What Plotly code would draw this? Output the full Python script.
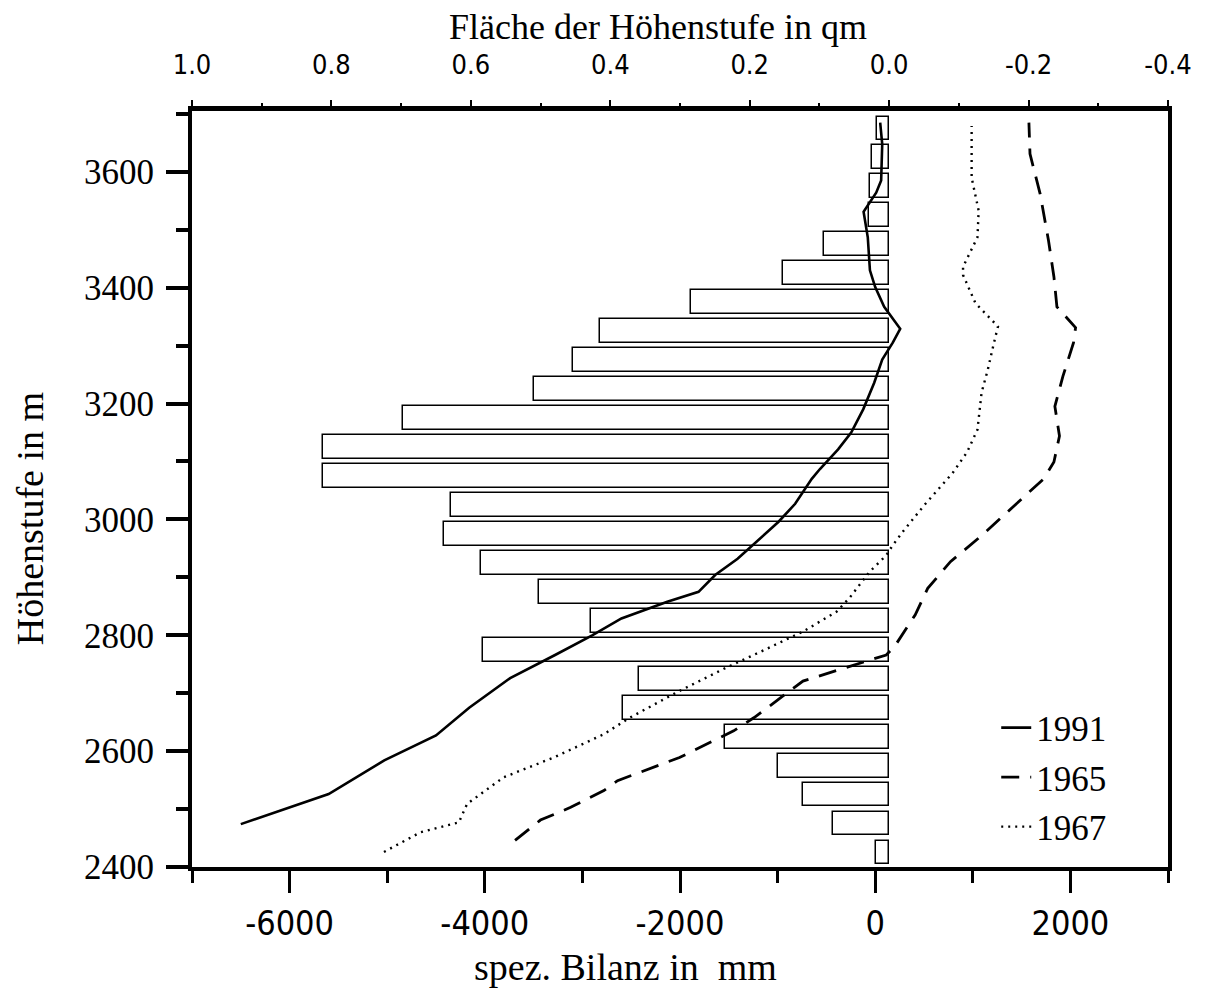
import plotly.graph_objects as go

# ---------------- data ----------------
# area of altitude band (qm) -- bars, centre altitude of 50 m bands
band_alt = [3675, 3625, 3575, 3525, 3475, 3425, 3375, 3325, 3275, 3225, 3175, 3125, 3075,
            3025, 2975, 2925, 2875, 2825, 2775, 2725, 2675, 2625, 2575, 2525, 2475, 2425]
band_area = [0.018, 0.024, 0.027, 0.029, 0.093, 0.152, 0.284, 0.415, 0.454, 0.510, 0.697, 0.812, 0.812,
             0.628, 0.639, 0.585, 0.502, 0.427, 0.583, 0.359, 0.382, 0.236, 0.160, 0.123, 0.080, 0.019]

# specific balance (mm) vs altitude
alt_1991 = [2474, 2503, 2526, 2584, 2627, 2675, 2726, 2766, 2800, 2829, 2858, 2875, 2904, 2932,
            2964, 2996, 3027, 3047, 3070, 3087, 3121, 3150, 3190, 3236, 3276, 3305, 3329, 3367,
            3401, 3430, 3487, 3531, 3564, 3585, 3648, 3685]
bal_1991 = [-6500, -5990, -5600, -5030, -4500, -4160, -3740, -3280, -2900, -2600, -2130, -1810, -1640, -1410,
            -1200, -990, -820, -740, -650, -566, -380, -246, -123, -10, 72, 180, 256, 92,
            0, -54, -76, -119, 10, 61, 72, 51]

alt_1965 = [2446, 2481, 2503, 2532, 2549, 2589, 2635, 2658, 2721, 2749, 2766, 2781, 2835, 2881,
            2927, 2972, 3030, 3070, 3099, 3144, 3195, 3247, 3305, 3331, 3367, 3419, 3481, 3562,
            3631, 3685]
bal_1965 = [-3690, -3430, -3120, -2780, -2640, -2005, -1450, -1240, -740, -224, 113, 200, 409, 538,
            771, 1090, 1471, 1726, 1831, 1888, 1841, 1923, 2032, 2053, 1862, 1831, 1776, 1690,
            1586, 1575]

alt_1967 = [2426, 2460, 2477, 2509, 2555, 2589, 2629, 2640, 2658, 2704, 2743, 2773, 2807, 2841,
            2864, 2910, 2938, 2955, 2979, 3024, 3080, 3116, 3155, 3219, 3258, 3305, 3333, 3373,
            3422, 3436, 3487, 3533, 3590, 3679]
bal_1967 = [-5033, -4658, -4266, -4181, -3806, -3294, -2783, -2682, -2512, -2005, -1539, -1156, -733, -394,
            -266, -55, 113, 178, 284, 500, 793, 941, 1048, 1090, 1153, 1217, 1258, 1028,
            900, 900, 1048, 1060, 988, 988]

# tick labels
y_tickvals = [2400, 2600, 2800, 3000, 3200, 3400, 3600]
y_ticktext = ["2400", "2600", "2800", "3000", "3200", "3400", "3600"]
bottom_tickvals = [-6000, -4000, -2000, 0, 2000]
bottom_ticktext = ["-6000", "-4000", "-2000", "0", "2000"]
top_tickvals = [1.0, 0.8, 0.6, 0.4, 0.2, 0.0, -0.2, -0.4]
top_ticktext = ["1.0", "0.8", "0.6", "0.4", "0.2", "0.0", "-0.2", "-0.4"]

SERIF = "Liberation Serif, Times New Roman, serif"
NARROW = "Liberation Sans Narrow, Arial Narrow, DejaVu Sans Condensed, Liberation Sans, sans-serif"

fig = go.Figure()

# bars on the top (area) axis
fig.add_trace(go.Bar(
    x=band_area, y=band_alt, orientation="h", width=41,
    marker=dict(color="white", line=dict(color="black", width=1.5)),
    xaxis="x", yaxis="y", showlegend=False, hoverinfo="skip"))

# balance lines on the bottom axis (overlay -> drawn above bars)
fig.add_trace(go.Scatter(x=bal_1991, y=alt_1991, mode="lines", name="1991",
                         line=dict(color="black", width=2.6), xaxis="x2", yaxis="y",
                         legendgroup="a"))
fig.add_trace(go.Scatter(x=bal_1965, y=alt_1965, mode="lines", name="1965",
                         line=dict(color="black", width=2.8, dash="18px,11px"), xaxis="x2", yaxis="y",
                         legendgroup="b"))
fig.add_trace(go.Scatter(x=bal_1967, y=alt_1967, mode="lines", name="1967",
                         line=dict(color="black", width=2.4, dash="2px,5px"), xaxis="x2", yaxis="y",
                         legendgroup="c"))

fig.update_layout(
    width=1205, height=1002,
    paper_bgcolor="white", plot_bgcolor="white",
    margin=dict(l=184, r=45, t=103, b=143),
    bargap=0,
    xaxis=dict(  # top axis: area
        side="top", range=[1.0, -0.4], showgrid=False, zeroline=False,
        showline=True, linecolor="black", linewidth=5,
        ticks="outside", ticklen=6, tickwidth=1.5, tickcolor="black",
        tickvals=top_tickvals, ticktext=top_ticktext,
        minor=dict(dtick=0.1, ticks="outside", ticklen=3, tickwidth=1.5, tickcolor="black"),
        tickfont=dict(family=NARROW, size=27, color="black"),
        ticklabelstandoff=15,
    ),
    xaxis2=dict(  # bottom axis: balance
        overlaying="x", side="bottom", range=[-7000, 3000], showgrid=False, zeroline=False,
        showline=True, linecolor="black", linewidth=4,
        ticks="outside", ticklen=22, tickwidth=3, tickcolor="black",
        tickvals=bottom_tickvals, ticktext=bottom_ticktext,
        minor=dict(dtick=1000, tick0=-7000, ticks="outside", ticklen=12, tickwidth=3, tickcolor="black"),
        tickfont=dict(family=NARROW, size=34, color="black"),
        ticklabelstandoff=1,
    ),
    yaxis=dict(
        range=[2400, 3705], showgrid=False, zeroline=False,
        showline=True, linecolor="black", linewidth=4, mirror=True,
        ticks="outside", ticklen=22, tickwidth=3.5, tickcolor="black",
        tickvals=y_tickvals, ticktext=y_ticktext,
        minor=dict(dtick=100, tick0=2400, ticks="outside", ticklen=12, tickwidth=3.5, tickcolor="black"),
        tickfont=dict(family=SERIF, size=35, color="black"),
        ticklabelstandoff=5,
    ),
    legend=dict(x=0.824, xanchor="left", y=0.223, yanchor="top",
                bgcolor="rgba(0,0,0,0)", font=dict(family=SERIF, size=35, color="black"),
                tracegroupgap=1, itemwidth=30),
    annotations=[
        dict(text="Fläche der Höhenstufe in qm", xref="paper", yref="paper",
             x=0.477, y=1.0, yshift=84, xanchor="center", yanchor="middle", showarrow=False,
             font=dict(family=SERIF, size=36, color="black")),
        dict(text="spez. Bilanz in\u00a0 mm", xref="paper", yref="paper",
             x=0.444, y=0.0, yshift=-100, xanchor="center", yanchor="middle", showarrow=False,
             font=dict(family=SERIF, size=38, color="black")),
        dict(text="Höhenstufe in m", xref="paper", yref="paper",
             x=0.0, xshift=-162, y=0.46, xanchor="center", yanchor="middle", showarrow=False,
             textangle=-90, font=dict(family=SERIF, size=38, color="black")),
    ],
)

fig.write_html("out.html")
